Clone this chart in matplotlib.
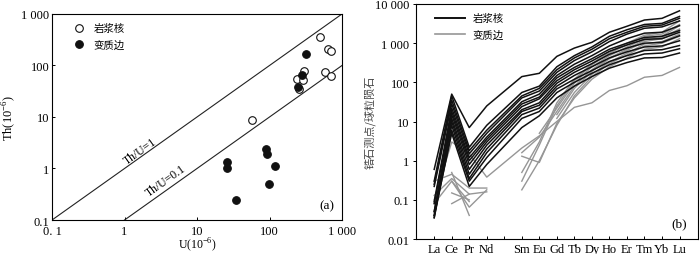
import numpy as np
import matplotlib
matplotlib.use("Agg")
import matplotlib.pyplot as plt
from matplotlib.lines import Line2D

plt.rcParams['font.family'] = ['Liberation Serif', 'Noto Sans CJK SC']
plt.rcParams['mathtext.fontset'] = 'custom'
plt.rcParams['mathtext.rm'] = 'Liberation Serif'
plt.rcParams['axes.linewidth'] = 0.8

# ---- panel (a): Th vs U ----
core_u = [58, 239, 258, 289, 302, 502, 589, 634, 705, 705]
core_th = [8.7, 55, 35, 53, 77, 350, 76, 209, 188, 62]
rim_u = [25.8, 25.8, 34.7, 90, 92, 99, 119, 244, 277, 322]
rim_th = [1.36, 1.0, 0.24, 2.39, 1.94, 0.49, 1.13, 39, 65, 167]

log_ticks_a = [0.1, 1, 10, 100, 1000]
x_labels_a = ['0. 1', '1', '10', '100', '1 000']
y_labels_a = ['0.1', '1', '10', '100', '1 000']

# ---- panel (b): chondrite-normalised REE ----
ree = ['La', 'Ce', 'Pr', 'Nd', 'Sm', 'Eu', 'Gd', 'Tb', 'Dy', 'Ho', 'Er', 'Tm', 'Yb', 'Lu']
ree_pos = [0, 1, 2, 3, 5, 6, 7, 8, 9, 10, 11, 12, 13, 14]
tick_pos_b = list(range(15))
tick_labels_b = ['La', 'Ce', 'Pr', 'Nd', '', 'Sm', 'Eu', 'Gd', 'Tb', 'Dy', 'Ho', 'Er', 'Tm', 'Yb', 'Lu']

core_ree = [
    [0.6, 50, 7.0, 25, 140, 170, 460, 750, 1050, 1900, 2700, 3900, 4300, 6700],
    [0.3, 45, 2.2, 8.0, 55, 80, 250, 480, 800, 1500, 2200, 3000, 3200, 4800],
    [0.25, 35, 1.8, 6.0, 45, 70, 210, 420, 700, 1300, 1900, 2700, 2900, 4300],
    [0.22, 28, 1.5, 5.0, 40, 60, 180, 360, 600, 1100, 1700, 2400, 2600, 3700],
    [0.09, 22, 1.2, 4.0, 32, 50, 150, 290, 480, 850, 1300, 1800, 1900, 2800],
    [0.08, 18, 1.0, 3.5, 28, 42, 130, 240, 400, 700, 1000, 1400, 1500, 2100],
    [0.05, 15, 0.8, 3.0, 24, 38, 110, 210, 350, 620, 900, 1250, 1300, 1900],
    [0.04, 12, 0.6, 2.5, 20, 30, 95, 180, 300, 520, 750, 1000, 1050, 1550],
    [0.035, 10, 0.45, 2.0, 18, 26, 80, 150, 250, 420, 600, 800, 850, 1150],
    [0.05, 8, 0.35, 1.6, 15, 22, 68, 120, 200, 340, 480, 650, 680, 870],
    [0.035, 6, 0.3, 1.2, 12, 18, 55, 100, 170, 280, 400, 530, 560, 720],
    [0.04, 5, 0.22, 0.8, 7, 14, 40, 80, 140, 230, 320, 420, 430, 560],
]
nan = np.nan
rim_ree = [
    [0.10, 3.0, 1.5, 0.38, 2.1, 4.3, 10, 23, 30, 62, 82, 135, 150, 240],
    [0.30, 0.45, 0.20, 0.20, nan, 5.0, 22, 95, 250, 480, 800, 1300, 1500, 2800],
    [0.13, 0.35, 0.14, 0.16, nan, nan, 15, 70, 190, 400, 650, 1100, 1300, 2100],
    [0.08, 0.30, 0.065, 0.18, nan, nan, 12, 55, 160, 330, 550, 950, 1100, 1700],
    [nan, 0.08, 0.14, nan, 1.3, 0.9, 9, 40, 120, 250, 420, 700, 800, 1300],
    [nan, 0.15, 0.10, nan, 0.3, 2.5, 25, 110, 280, 560, 900, 1500, 1700, 3000],
    [nan, 0.5, 0.04, nan, 0.18, 1.0, 8, 45, 140, 300, 500, 850, 1000, 1500],
    [nan, nan, nan, nan, 0.5, 3.0, 30, 120, 300, 600, 1000, 1600, 1900, 3700],
    [nan, 0.3, 0.09, nan, 1.6, 4.0, 18, 80, 210, 420, 700, 1200, 1400, 2300],
]
y_ticks_b = [0.01, 0.1, 1, 10, 100, 1000, 10000]
y_labels_b = ['0.01', '0.1', '1', '10', '100', '1 000', '10 000']

fig = plt.figure(figsize=(7, 2.55), dpi=100)

# ---------- (a) ----------
ax = fig.add_axes([0.0743, 0.1333, 0.4143, 0.808])
ax.set_xscale('log')
ax.set_yscale('log')
ax.set_xlim(0.1, 1000)
ax.set_ylim(0.1, 1000)
ax.plot([0.1, 1000], [0.1, 1000], color='#222222', lw=0.8)
ax.plot([1, 1000], [0.1, 100], color='#222222', lw=0.8)
ax.text(1.64, 2.2, 'Th/U=1', rotation=35.4, ha='center', va='center',
        rotation_mode='anchor', fontsize=8.5)
ax.text(3.7, 0.6, 'Th/U=0.1', rotation=35.4, ha='center', va='center',
        rotation_mode='anchor', fontsize=8.5)
ax.scatter(core_u, core_th, s=30, facecolors='white', edgecolors='#111111',
           linewidths=0.8, zorder=3)
ax.scatter(rim_u, rim_th, s=30, facecolors='#111111', edgecolors='#111111',
           linewidths=0.8, zorder=3)
ax.set_xticks(log_ticks_a)
ax.set_xticklabels(x_labels_a)
ax.set_yticks(log_ticks_a)
ax.set_yticklabels(y_labels_a)
ax.minorticks_off()
ax.tick_params(direction='in', length=2.5, width=0.7, labelsize=9)
ax.tick_params(axis='x', pad=3.5)
ax.tick_params(axis='y', pad=2)
ax.set_xlabel('U(10$^{-6}$)', fontsize=8.5, labelpad=-1)
ax.set_ylabel('Th(10$^{-6}$)', fontsize=9, labelpad=2)
ax.text(0.975, 0.04, '(a)', transform=ax.transAxes, ha='right', va='bottom', fontsize=9.5)
h_a = [Line2D([], [], ls='none', marker='o', ms=5.5, mfc='white', mec='#111111', mew=0.8),
       Line2D([], [], ls='none', marker='o', ms=5.5, mfc='#111111', mec='#111111', mew=0.8)]
ax.legend(h_a, ['岩浆核', '变质边'], loc='upper left', bbox_to_anchor=(0.025, 1.0),
          frameon=False, handletextpad=0.4, labelspacing=0.6,
          prop={'family': 'Noto Sans CJK SC', 'size': 7.5})

# ---------- (b) ----------
bx = fig.add_axes([0.594, 0.0588, 0.403, 0.9216])
bx.set_yscale('log')
bx.set_xlim(-1.05, 15.05)
bx.set_ylim(0.01, 10000)
for row in rim_ree:
    bx.plot(ree_pos, row, color='#969696', lw=1.0)
for row in core_ree:
    bx.plot(ree_pos, row, color='#111111', lw=1.1)
bx.set_xticks(tick_pos_b)
bx.set_xticklabels(tick_labels_b)
bx.set_yticks(y_ticks_b)
bx.set_yticklabels(y_labels_b)
bx.minorticks_off()
bx.tick_params(axis='x', direction='in', length=2.5, width=0.7, labelsize=9, pad=3)
bx.tick_params(axis='y', direction='out', length=2.5, width=0.7, labelsize=9, pad=2)
bx.set_ylabel('锆石测点/球粒陨石', family='Noto Sans CJK SC', fontsize=8, color='#444444', labelpad=0)
bx.text(0.96, 0.04, '(b)', transform=bx.transAxes, ha='right', va='bottom', fontsize=9.5)
h_b = [Line2D([], [], color='#111111', lw=1.4), Line2D([], [], color='#969696', lw=1.2)]
bx.legend(h_b, ['岩浆核', '变质边'], loc='upper left', bbox_to_anchor=(0.035, 1.0),
          frameon=False, handlelength=2.9, handletextpad=0.7, labelspacing=0.6,
          prop={'family': 'Noto Sans CJK SC', 'size': 7.5})

fig.savefig('out.png', dpi=100)
